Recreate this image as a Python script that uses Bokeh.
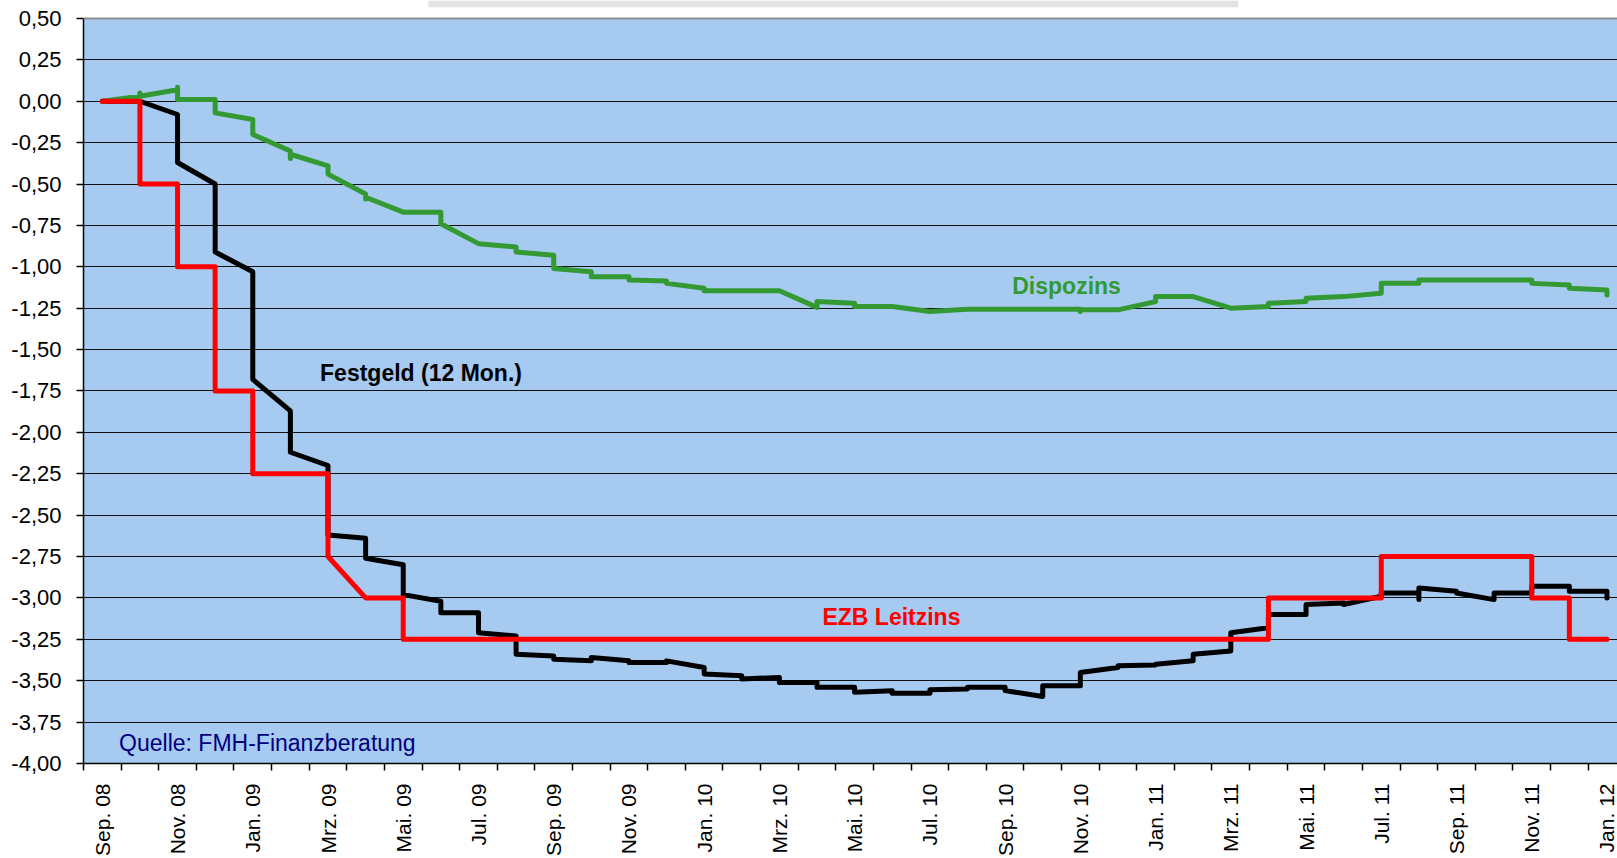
from bokeh.plotting import figure
from bokeh.models import Range1d, FixedTicker, CustomJSTickFormatter, Label, Span
from bokeh.embed import file_html
from bokeh.resources import INLINE

# ---- data -------------------------------------------------------------
months = ["Sep. 08", "Okt. 08", "Nov. 08", "Dez. 08",
          "Jan. 09", "Feb. 09", "Mrz. 09", "Apr. 09", "Mai. 09", "Jun. 09",
          "Jul. 09", "Aug. 09", "Sep. 09", "Okt. 09", "Nov. 09", "Dez. 09",
          "Jan. 10", "Feb. 10", "Mrz. 10", "Apr. 10", "Mai. 10", "Jun. 10",
          "Jul. 10", "Aug. 10", "Sep. 10", "Okt. 10", "Nov. 10", "Dez. 10",
          "Jan. 11", "Feb. 11", "Mrz. 11", "Apr. 11", "Mai. 11", "Jun. 11",
          "Jul. 11", "Aug. 11", "Sep. 11", "Okt. 11", "Nov. 11", "Dez. 11",
          "Jan. 12"]

y_ticks = [0.50, 0.25, 0.00, -0.25, -0.50, -0.75, -1.00, -1.25, -1.50, -1.75,
           -2.00, -2.25, -2.50, -2.75, -3.00, -3.25, -3.50, -3.75, -4.00]

# Festgeld (12 Mon.) - month index and value (two values at a month = step)
festgeld_m = [0, 1, 2, 2, 3, 3, 4, 4, 5, 5, 6, 6, 7, 7, 8, 8, 9, 9, 10, 10,
              11, 11, 12, 12, 13, 13, 14, 14, 15, 15, 16, 16, 17, 17, 18, 18,
              19, 19, 20, 20, 21, 21, 22, 22, 23, 23, 24, 24, 25, 25, 26, 26,
              27, 27, 28, 28, 29, 29, 30, 30, 31, 31, 32, 32, 33, 33, 34, 34,
              35, 35, 35, 36, 36, 37, 37, 38, 38, 39, 39, 40, 40]
festgeld_v = [0.00, 0.00, -0.08, -0.37, -0.50, -0.91, -1.03, -1.68, -1.87, -2.12,
              -2.20, -2.62, -2.64, -2.76, -2.80, -2.98, -3.02, -3.09, -3.09, -3.21,
              -3.23, -3.34, -3.35, -3.37, -3.38, -3.36, -3.38, -3.39, -3.39, -3.38,
              -3.42, -3.46, -3.47, -3.49, -3.48, -3.51, -3.51, -3.54, -3.54, -3.57,
              -3.56, -3.575, -3.575, -3.555, -3.55, -3.54, -3.54, -3.56, -3.595, -3.53,
              -3.53, -3.45, -3.42, -3.41, -3.405, -3.40, -3.38, -3.34, -3.32, -3.21,
              -3.18, -3.10, -3.10, -3.04, -3.03, -3.04, -2.99, -2.97,
              -2.97, -3.01, -2.94, -2.96, -2.97, -3.01, -2.97, -2.97, -2.93,
              -2.93, -2.96, -2.96, -3.00]

# Dispozins
dispo_m = [0, 1, 1, 1, 2, 2, 2, 3, 3, 4, 4, 5, 5, 5, 6, 6, 7, 7, 7, 8, 9, 9,
           10, 11, 11, 12, 12, 13, 13, 14, 14, 15, 15, 16, 16, 17, 18, 19, 19,
           20, 20, 21, 22, 23, 24, 25, 26, 26, 26, 27, 28, 28, 29, 30, 31, 31,
           32, 32, 33, 34, 34, 35, 35, 36, 37, 38, 38, 39, 39, 40, 40]
dispo_v = [0.00, 0.03, 0.05, 0.03, 0.07, 0.085, 0.01, 0.01, -0.07, -0.11, -0.20,
           -0.30, -0.345, -0.32, -0.39, -0.44, -0.56, -0.59, -0.58, -0.67, -0.67,
           -0.74, -0.86, -0.88, -0.91, -0.93, -1.01, -1.03, -1.06, -1.06, -1.08,
           -1.085, -1.10, -1.13, -1.145, -1.145, -1.145, -1.245, -1.21, -1.22,
           -1.24, -1.24, -1.27, -1.257, -1.257, -1.257, -1.257, -1.27, -1.26,
           -1.26, -1.21, -1.18, -1.18, -1.25, -1.24, -1.22, -1.21, -1.19, -1.18,
           -1.16, -1.10, -1.10, -1.08, -1.08, -1.08, -1.08, -1.10, -1.11, -1.13,
           -1.14, -1.17]

# EZB Leitzins
ezb_m = [0, 1, 1, 2, 2, 3, 3, 4, 4, 5, 6, 6, 7, 8, 8, 31, 31, 34, 34, 38, 38,
         39, 39, 40]
ezb_v = [0.00, 0.00, -0.50, -0.50, -1.00, -1.00, -1.75, -1.75, -2.25, -2.25,
         -2.25, -2.75, -3.00, -3.00, -3.25, -3.25, -3.00, -3.00, -2.75, -2.75,
         -3.00, -3.00, -3.25, -3.25]

# ---- figure -----------------------------------------------------------
FONT = "Liberation Sans"
Y_MIN, Y_MAX = -4.0, 0.5
PX_PER_UNIT = 746 / (Y_MAX - Y_MIN)
TOP_PAD = 18 / PX_PER_UNIT          # white strip above the plot area

p = figure(width=1617, height=858, output_backend="svg", toolbar_location=None,
           x_range=Range1d(0, 40.78), y_range=Range1d(Y_MIN, Y_MAX + TOP_PAD),
           min_border_left=83, min_border_right=0, min_border_top=0,
           min_border_bottom=94)
p.background_fill_color = "white"
p.border_fill_color = "white"
p.outline_line_color = None

# plot-area background (blue) and the partly visible grey box above it
p.quad(left=0, right=len(months), bottom=Y_MIN, top=Y_MAX,
       fill_color="#A6CAF0", line_color=None, level="image")
p.quad(left=9.17, right=30.70, bottom=Y_MAX + TOP_PAD - 6.7 / PX_PER_UNIT,
       top=Y_MAX + TOP_PAD, fill_color="#E3E3E3", line_color=None, level="image")

# grid
p.xgrid.visible = False
p.ygrid.ticker = FixedTicker(ticks=y_ticks)
p.ygrid.grid_line_color = "#111111"
p.ygrid.grid_line_width = 1

# y axis
ya = p.yaxis[0]
ya.bounds = (Y_MIN, Y_MAX)
ya.ticker = FixedTicker(ticks=y_ticks)
ya.formatter = CustomJSTickFormatter(code="return tick.toFixed(2).replace('.', ',');")
ya.major_label_text_font = FONT
ya.major_label_text_font_size = "22px"
ya.major_label_text_color = "black"
ya.major_tick_out = 7
ya.major_tick_in = 0
ya.minor_tick_out = 0
ya.minor_tick_in = 0
ya.major_label_standoff = 15
ya.axis_line_color = "black"
ya.axis_line_width = 1.5
ya.major_tick_line_color = "black"
ya.major_tick_line_width = 1.5

# x axis: labels at month centres (every second month), tick marks at month borders
xa = p.xaxis[0]
label_pos = [i + 0.5 for i in range(0, len(months), 2)]
xa.ticker = FixedTicker(ticks=label_pos, minor_ticks=list(range(0, len(months) + 1)))
xa.major_label_overrides = {i + 0.5: months[i] for i in range(0, len(months), 2)}
xa.major_label_orientation = 1.5707963267948966
xa.major_label_text_font = FONT
xa.major_label_text_font_size = "21px"
xa.major_label_text_color = "black"
xa.major_tick_out = 0
xa.major_tick_in = 0
xa.minor_tick_out = 7
xa.minor_tick_in = 0
xa.minor_tick_line_color = "black"
xa.minor_tick_line_width = 1.5
xa.major_label_standoff = 13
xa.axis_line_color = "black"
xa.axis_line_width = 1.5

# top border of plot area
p.add_layout(Span(location=Y_MAX, dimension="width", line_color="#8c8c8c", line_width=2))

# series
fx = [m + 0.5 for m in festgeld_m]
dx = [m + 0.5 for m in dispo_m]
ex = [m + 0.5 for m in ezb_m]
p.line(fx, festgeld_v, line_color="black", line_width=5, line_join="round", line_cap="round")
p.line(dx, dispo_v, line_color="#339933", line_width=5, line_join="round", line_cap="round")
p.line(ex, ezb_v, line_color="#FF0000", line_width=5, line_join="round", line_cap="round")

# annotations
p.add_layout(Label(x=24.69, y=-1.115, text="Dispozins", text_font=FONT,
                   text_font_size="23px", text_font_style="bold", text_color="#339933",
                   text_align="left", text_baseline="alphabetic"))
p.add_layout(Label(x=6.289, y=-1.643, text="Festgeld (12 Mon.)", text_font=FONT,
                   text_font_size="23px", text_font_style="bold", text_color="black",
                   text_align="left", text_baseline="alphabetic"))
p.add_layout(Label(x=19.644, y=-3.113, text="EZB Leitzins", text_font=FONT,
                   text_font_size="23px", text_font_style="bold", text_color="#FF0000",
                   text_align="left", text_baseline="alphabetic"))
p.add_layout(Label(x=0.946, y=-3.876, text="Quelle: FMH-Finanzberatung", text_font=FONT,
                   text_font_size="23px", text_color="#000080",
                   text_align="left", text_baseline="alphabetic"))

open("out.html", "w").write(file_html(p, INLINE))
